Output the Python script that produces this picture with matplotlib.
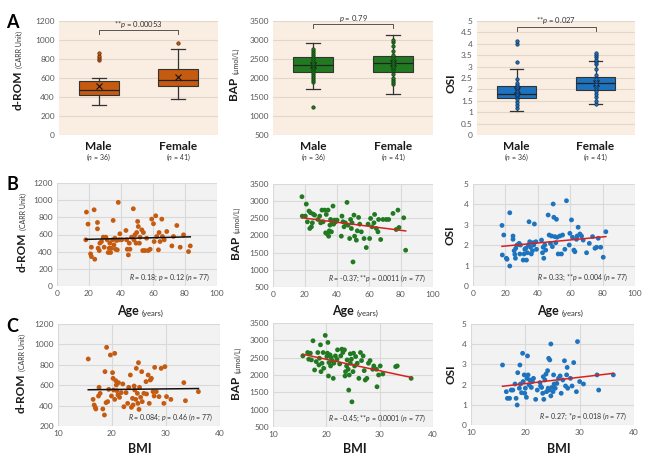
import numpy as np
import matplotlib
matplotlib.use('Agg')
import matplotlib.pyplot as plt
from matplotlib import transforms

plt.rcParams['font.family'] = ['Lato', 'DejaVu Sans']
plt.rcParams['mathtext.fontset'] = 'custom'
plt.rcParams['mathtext.rm'] = 'Lato'
plt.rcParams['mathtext.it'] = 'Lato:italic'
plt.rcParams['mathtext.bf'] = 'Lato:bold'

# ---- panel A: sex comparison (box statistics) ----
groups = ['Male', 'Female']
group_n = [36, 41]

drom_whislo = [315, 374]
drom_q1 = [423, 514]
drom_med = [472, 584]
drom_q3 = [570, 693]
drom_whishi = [602, 903]
drom_mean = [514, 609]
drom_points = [[785, 808, 830, 862], [973]]

bap_whislo = [1699, 1576]
bap_q1 = [2154, 2171]
bap_med = [2355, 2407]
bap_q3 = [2547, 2573]
bap_whishi = [2923, 3142]
bap_mean = [2340, 2395]
bap_points = [[1244, 1900, 1950, 2000, 2050, 2100, 2150, 2200, 2250, 2300, 2330, 2350,
               2380, 2400, 2450, 2500, 2550, 2600, 2650, 2700, 2750],
              [1850, 1900, 1950, 2000, 2100, 2200, 2250, 2300, 2350, 2400, 2450, 2500,
               2550, 2600, 2700, 2850, 2950, 3000]]

osi_whislo = [1.05, 1.38]
osi_q1 = [1.63, 1.97]
osi_med = [1.82, 2.30]
osi_q3 = [2.14, 2.55]
osi_whishi = [2.89, 3.24]
osi_mean = [1.98, 2.30]
osi_points = [[1.2, 1.3, 1.45, 1.6, 1.7, 1.75, 1.8, 1.9, 1.95, 2.0, 2.05, 2.1, 2.2, 2.3,
               2.45, 3.2, 4.0, 4.12],
              [1.35, 1.5, 1.65, 1.8, 1.95, 2.05, 2.15, 2.25, 2.35, 2.45, 2.65, 2.9, 3.1,
               3.2, 3.3, 3.4, 3.5, 3.6]]

# ---- panel B: versus age ----
age_drom = [18.4, 19.4, 18, 21.5, 21, 21.5, 23.2, 23.6, 25.3, 25.3, 25.7, 26.4, 26.8, 27.8,
            28.9, 29.5, 30.5, 31.4, 32, 32.6, 33, 33.5, 34, 34.7, 35.1, 35.6, 36.2, 36.6,
            37.2, 37.7, 38.3, 38.7, 39.3, 40.4, 43.1, 43.5, 43.9, 44.6, 45.2, 45.6, 46.6,
            47.7, 48.1, 48.7, 49.4, 49.8, 50.4, 50.8, 51.5, 51.9, 53, 53.6, 54, 55, 56, 57,
            58.2, 59.2, 60.3, 60.7, 61.7, 62.3, 63.4, 63.8, 64.4, 65.5, 65.9, 67, 68.6, 71.8,
            72.8, 74.9, 77, 79.1, 82.2, 83.3]
drom_age = [861, 721, 538, 452, 374, 343, 888, 312, 740, 666, 440, 413, 499, 518, 569, 452,
            569, 538, 390, 440, 499, 390, 440, 538, 764, 479, 557, 428, 530, 421, 974, 538,
            608, 538, 647, 538, 428, 362, 499, 428, 569, 900, 538, 596, 499, 623, 752, 693,
            499, 569, 654, 413, 623, 413, 557, 413, 428, 779, 725, 518, 818, 577, 421, 623,
            518, 779, 577, 538, 635, 467, 577, 705, 452, 596, 401, 467]

age_bap = [18.1, 18.3, 20.2, 20.8, 21.5, 22.5, 23, 23.5, 24, 24.6, 25.2, 26, 28.1, 29.2,
           29.8, 30.6, 31.3, 32.3, 32.9, 33.3, 34, 34.4, 34.8, 35.2, 35.6, 36, 36.5, 36.9,
           37.5, 37.9, 38.5, 39.2, 40, 42.7, 43.1, 43.75, 44.4, 45.2, 46.25, 46.9, 47.9,
           48.5, 49, 49.4, 50, 50.6, 51, 52.1, 52.7, 53.5, 54.2, 55.2, 56.9, 58.3, 59.4,
           60.4, 61, 61.9, 63.1, 63.5, 64.6, 65.6, 66, 67.3, 68.75, 70.8, 72.3, 75, 77, 78.1,
           78.75, 81.7, 82.9]
bap_age = [3130, 2565, 2565, 2915, 2399, 2711, 2204, 2662, 2253, 2370, 2623, 2594, 2467,
           2565, 2370, 2740, 2399, 2740, 2078, 2613, 2039, 2740, 1980, 2136, 2302, 2467,
           2107, 2399, 2857, 2331, 2448, 2399, 2448, 1980, 2565, 2399, 2253, 2370, 2964,
           2302, 1912, 2467, 2204, 2370, 1230, 2594, 1980, 1864, 2136, 2526, 2331, 2107,
           1912, 1649, 2331, 1912, 2497, 2253, 2370, 2613, 2204, 2107, 2467, 1883, 2467,
           2467, 2467, 2643, 2175, 2740, 2234, 2516, 1571]

age_osi = [17.9, 18.1, 19, 20.6, 21, 22.7, 22.7, 24.7, 24.7, 25.4, 25.8, 26.2, 26.4, 27.2,
           28.5, 28.9, 29.3, 31, 31.5, 32, 32.6, 33, 33.6, 34.2, 34.6, 35, 35.5, 36, 36.7,
           37.1, 37.5, 37.9, 38.8, 39.2, 42.3, 42.9, 43.3, 43.7, 44.3, 44.9, 46.4, 47, 47.8,
           48.5, 49, 49.5, 49.9, 50.5, 51.1, 51.5, 51.9, 52.6, 53.6, 54.6, 55.3, 56.7, 57.7,
           59.4, 59.8, 60.8, 61.4, 62.3, 62.9, 63.9, 64.3, 64.9, 66, 67, 68, 70.1, 71.8,
           73.8, 75.3, 76.3, 77.3, 78.8, 80.4, 82]
osi_age = [2.97, 1.52, 2.5, 1.36, 1.31, 3.59, 0.98, 2.45, 2.29, 1.73, 1.55, 1.36, 1.85,
           2.01, 2.09, 1.57, 2.01, 1.27, 1.57, 1.8, 1.85, 1.27, 1.63, 2.01, 3.15, 2.17, 1.9,
           1.57, 1.73, 2.12, 2.01, 3.04, 2.17, 1.8, 2.25, 1.63, 1.9, 1.36, 2.01, 1.76, 3.48,
           2.5, 2.09, 2.45, 1.93, 4.02, 3.37, 2.42, 2.12, 3.27, 2.39, 1.57, 2.45, 1.57, 2.5,
           1.8, 4.18, 2.01, 2.58, 3.24, 2.39, 1.76, 1.68, 2.29, 2.45, 2.88, 2.55, 2.45, 2.25,
           1.63, 2.09, 2.42, 1.85, 1.9, 2.34, 1.9, 1.41, 2.66]

# ---- panel C: versus BMI ----
bmi_drom = [15.6, 16.5, 16.7, 16.9, 17, 17.5, 17.6, 17.8, 18.3, 18.6, 18.7, 18.9, 19.0,
            19.2, 19.4, 19.7, 19.9, 20.1, 20.2, 20.3, 20.5, 20.5, 20.7, 20.8, 20.9, 21.1,
            21.2, 21.4, 21.7, 22, 22.2, 22.6, 22.9, 23.1, 23.4, 23.6, 23.8, 23.9, 24.1, 24.2,
            24.4, 24.5, 24.7, 24.8, 24.9, 25, 25.1, 25.3, 25.5, 25.6, 25.9, 26.3, 26.4, 26.7,
            26.9, 27.1, 27.3, 27.6, 27.8, 27.9, 28.2, 28.7, 29.1, 29.6, 29.8, 30.1, 30.9,
            33.3, 33.6, 36]
drom_bmi = [857, 461, 406, 383, 367, 494, 579, 520, 367, 308, 733, 429, 971, 439, 559, 896,
            494, 723, 667, 553, 461, 912, 644, 602, 546, 504, 625, 481, 527, 612, 389, 527,
            422, 579, 700, 383, 471, 406, 592, 553, 461, 765, 520, 422, 821, 363, 579, 481,
            733, 439, 520, 635, 514, 700, 422, 651, 667, 537, 494, 775, 537, 488, 765, 422,
            782, 488, 461, 625, 448, 537]

bmi_bap = [15.6, 16.5, 16.7, 17, 17.2, 17.5, 17.8, 18.1, 18.4, 18.6, 18.7, 18.9, 19, 19.2,
           19.4, 19.5, 19.8, 20.1, 20.2, 20.3, 20.4, 20.5, 20.7, 20.8, 20.9, 21.1, 21.3,
           21.4, 21.7, 22, 22.1, 22.5, 22.7, 22.9, 23.1, 23.4, 23.5, 23.6, 23.8, 23.9, 24.1,
           24.2, 24.3, 24.5, 24.5, 24.7, 24.8, 25, 25.1, 25.3, 25.5, 25.8, 26.1, 26.4, 26.6,
           26.9, 27.1, 27.3, 27.6, 27.9, 28.2, 28.7, 28.9, 29.4, 29.5, 29.8, 30.1, 30.6, 33,
           33.3, 35.9]
bap_bmi = [2552, 2648, 2455, 2629, 2436, 2987, 2145, 2387, 2648, 2290, 2484, 2871, 2097,
           2339, 2648, 2194, 3142, 2532, 2629, 2939, 1971, 2358, 2581, 2261, 2503, 2416,
           1903, 2339, 2552, 2455, 2726, 2319, 2552, 2745, 2648, 2726, 1971, 2097, 2261,
           2436, 2165, 1565, 2000, 2610, 2339, 2455, 1226, 2097, 2629, 2261, 2532, 2339,
           1903, 2648, 2416, 2552, 2126, 1855, 1903, 2339, 2416, 2165, 2261, 2165, 1661,
           2000, 2261, 2029, 2242, 2261, 1903]

bmi_osi = [15.8, 16.5, 16.7, 17.1, 17.4, 17.7, 18.1, 18.3, 18.5, 18.6, 18.9, 19, 19.1, 19.3,
           19.5, 19.6, 19.8, 19.9, 20, 20.2, 20.3, 20.4, 20.5, 20.7, 20.8, 21.1, 21.3, 21.5,
           21.9, 22.2, 22.7, 22.8, 23, 23.2, 23.3, 23.4, 23.6, 23.8, 23.9, 24.1, 24.2, 24.3,
           24.4, 24.5, 24.7, 24.7, 24.9, 25.1, 25.2, 25.3, 25.5, 25.8, 26.1, 26.4, 26.6,
           26.9, 27.2, 27.4, 27.6, 27.7, 27.8, 28.3, 28.6, 28.9, 29.4, 29.6, 30, 30.7, 33.2,
           33.5, 36.2]
osi_bmi = [2.97, 1.65, 1.32, 1.32, 1.73, 1.73, 2.03, 1.32, 0.99, 2.59, 1.82, 2.97, 2.03,
           1.6, 3.55, 2.15, 2.48, 1.57, 1.82, 1.37, 2.31, 3.42, 2.48, 1.98, 2.23, 1.86, 2.15,
           2.31, 1.27, 1.73, 2.1, 1.93, 1.86, 1.57, 2.39, 1.27, 2.23, 2.52, 1.65, 2.69, 1.82,
           3.3, 1.73, 3.22, 4.01, 1.44, 1.86, 1.65, 2.48, 2.03, 1.82, 2.06, 2.31, 2.43, 1.57,
           2.23, 3.18, 1.93, 2.48, 2.85, 1.82, 2.31, 1.93, 3.09, 1.65, 4.13, 2.15, 2.03,
           2.48, 1.73, 2.48]

stats_text = {
    ('B', 'drom'): r"$\it{R}$ = 0.18; $\it{p}$ = 0.12 ($\it{n}$ = 77)",
    ('B', 'bap'): r"$\it{R}$ = -0.37; **$\it{p}$ = 0.0011 ($\it{n}$ = 77)",
    ('B', 'osi'): r"$\it{R}$ = 0.33; **$\it{p}$ = 0.004 ($\it{n}$ = 77)",
    ('C', 'drom'): r"$\it{R}$ = 0.084; $\it{p}$ = 0.46 ($\it{n}$ = 77)",
    ('C', 'bap'): r"$\it{R}$ = -0.45; **$\it{p}$ = 0.0001 ($\it{n}$ = 77)",
    ('C', 'osi'): r"$\it{R}$ = 0.27; *$\it{p}$ = 0.018 ($\it{n}$ = 77)",
}
sex_p_text = [r"**$\it{p}$ = 0.00053", r"$\it{p}$ = 0.79", r"**$\it{p}$ = 0.027"]

ORANGE = '#C55A11'
GREEN = '#217A22'
BLUE = '#1E73BE'
TICK_C = '#595959'

W, H = 650, 467
fig = plt.figure(figsize=(6.5, 4.67), dpi=100)


def px_axes(x0, y0, x1, y1):
    return fig.add_axes([x0 / W, 1 - y1 / H, (x1 - x0) / W, (y1 - y0) / H])


def style(ax, bg, grid_c, both):
    ax.set_facecolor(bg)
    for s in ax.spines.values():
        s.set_visible(False)
    ax.tick_params(length=0, labelsize=6, colors=TICK_C, pad=3)
    ax.grid(axis='both' if both else 'y', color=grid_c, lw=0.8)
    ax.set_axisbelow(True)


def ylabel2(x_px, ybot_px, big, small):
    t = fig.text(x_px / W, 1 - ybot_px / H, big, rotation=90, ha='center', va='bottom',
                 fontsize=8.5, fontweight='bold', color='#1a1a1a')
    if small:
        fig.axes[0].annotate(small, xy=(1, 1), xycoords=t, xytext=(0, 2),
                             textcoords='offset points', rotation=90, ha='right',
                             va='bottom', fontsize=5, color='#333333',
                             annotation_clip=False)


def xlabel2(x_px, ybase_px, big, small):
    t = fig.text(x_px / W, 1 - ybase_px / H, big, ha='left', va='baseline',
                 fontsize=9, fontweight='bold', color='#1a1a1a')
    if small:
        fig.axes[0].annotate(small, xy=(1, 0), xycoords=t, xytext=(2, 0),
                             textcoords='offset points', ha='left', va='bottom',
                             fontsize=5.5, color='#333333', annotation_clip=False)


# ---------------- row A ----------------
box_sets = [
    (drom_whislo, drom_q1, drom_med, drom_q3, drom_whishi, drom_mean, drom_points, ORANGE,
     '#5a2508', (0, 1200), np.arange(0, 1201, 200), (1102, 1067, 1165)),
    (bap_whislo, bap_q1, bap_med, bap_q3, bap_whishi, bap_mean, bap_points, GREEN,
     '#0d3a0e', (500, 3500), np.arange(500, 3501, 500), (3413, 3326, 3560)),
    (osi_whislo, osi_q1, osi_med, osi_q3, osi_whishi, osi_mean, osi_points, BLUE,
     '#0b2f55', (0, 5), np.arange(0, 5.01, 0.5), (4.74, 4.56, 5.0)),
]
a_boxes = [(59, 21, 218, 135), (273, 21, 433, 135), (477, 21, 635, 135)]
for i, (lo, q1, med, q3, hi, mn, pts, col, edge, ylim, yt, br) in enumerate(box_sets):
    ax = px_axes(*a_boxes[i])
    style(ax, '#FAEDE1', '#E3D7CC', False)
    stats = []
    for k in range(2):
        stats.append(dict(whislo=lo[k], q1=q1[k], med=med[k], q3=q3[k], whishi=hi[k],
                          mean=mn[k], fliers=[]))
    ax.bxp(stats, positions=[1, 2], widths=0.5, patch_artist=True, showmeans=True,
           showfliers=False,
           boxprops=dict(facecolor=col, edgecolor='#333333', lw=0.8),
           medianprops=dict(color='#222222', lw=0.9),
           whiskerprops=dict(color='#333333', lw=0.9),
           capprops=dict(color='#333333', lw=0.9),
           capwidths=0.17,
           meanprops=dict(marker='x', markeredgecolor='#111111', markersize=4,
                          markeredgewidth=0.8))
    for k in range(2):
        ax.scatter(np.full(len(pts[k]), k + 1.0), pts[k], s=6, color=col,
                   edgecolors=edge, linewidths=0.5, zorder=4)
    ax.set_xlim(0.5, 2.5)
    ax.set_ylim(*ylim)
    ax.set_yticks(yt)
    if i == 2:
        ax.set_yticklabels([f'{v:g}' for v in yt])
    ax.set_xticks([1, 2])
    ax.set_xticklabels(groups, fontsize=8.5, fontweight='bold', color='#1a1a1a')
    ax.tick_params(axis='x', pad=4)
    trans = transforms.blended_transform_factory(ax.transData, ax.transAxes)
    for k in range(2):
        ax.text(k + 1, -0.2, rf"($\it{{n}}$ = {group_n[k]})", transform=trans, ha='center',
                va='center', fontsize=5, color='#333333')
    ytop, ytick_end, ytext = br
    ax.plot([1, 1, 2, 2], [ytick_end, ytop, ytop, ytick_end], color='#555555', lw=0.7,
            clip_on=False)
    ax.text(1.5, ytext, sex_p_text[i], ha='center', va='center', fontsize=5.5,
            color='#333333', clip_on=False)

ylabel2(18, 110, 'd-ROM', '(CARR Unit)')
ylabel2(234, 100, 'BAP', '(µmol/L)')
ylabel2(451, 93, 'OSI', '')

# ---------------- rows B and C ----------------
rows = [
    ('B', [(age_drom, drom_age), (age_bap, bap_age), (age_osi, osi_age)],
     [(57, 183, 217, 286), (273, 184, 433, 287), (473, 184, 635, 286)],
     (0, 100), np.arange(0, 101, 20)),
    ('C', [(bmi_drom, drom_bmi), (bmi_bap, bap_bmi), (bmi_osi, osi_bmi)],
     [(58, 324, 220, 426), (273, 323, 433, 427), (471, 324, 634, 425)],
     (10, 40), np.arange(10, 41, 10)),
]
names = ['drom', 'bap', 'osi']
colors = [ORANGE, GREEN, BLUE]
line_colors = ['#111111', '#D92020', '#D92020']
ylims = {'B': [(0, 1200), (500, 3500), (0, 5)], 'C': [(200, 1200), (500, 3500), (0, 5)]}
yticks = {'B': [np.arange(0, 1201, 200), np.arange(500, 3501, 500), np.arange(0, 6, 1)],
          'C': [np.arange(200, 1201, 200), np.arange(500, 3501, 500), np.arange(0, 6, 1)]}

for row, series, boxes, xlim, xt in rows:
    for j in range(3):
        ax = px_axes(*boxes[j])
        style(ax, '#F2F2F2', '#D9D9D9', True)
        x = np.array(series[j][0], dtype=float)
        y = np.array(series[j][1], dtype=float)
        ax.scatter(x, y, s=12, color=colors[j], edgecolors='none', zorder=3)
        slope, icpt = np.polyfit(x, y, 1)
        xs = np.array([x.min(), x.max()])
        ax.plot(xs, slope * xs + icpt, color=line_colors[j], lw=1.1, zorder=4)
        ax.set_xlim(*xlim)
        ax.set_xticks(xt)
        ax.set_ylim(*ylims[row][j])
        ax.set_yticks(yticks[row][j])
        ax.text(0.955, 0.085, stats_text[(row, names[j])], transform=ax.transAxes,
                ha='right', va='center', fontsize=5, color='#333333', zorder=5)

ylabel2(22, 272, 'd-ROM', '(CARR Unit)')
ylabel2(235, 259, 'BAP', '(µmol/L)')
ylabel2(450, 245, 'OSI', '')
ylabel2(21, 413, 'd-ROM', '(CARR Unit)')
ylabel2(236, 399, 'BAP', '(µmol/L)')
ylabel2(451, 384, 'OSI', '')

for xpx in (117, 332, 537):
    xlabel2(xpx, 315, 'Age', '(years)')
for xpx in (128, 343, 547):
    xlabel2(xpx, 453, 'BMI', '')

for letter, ypx in (('A', 23), ('B', 184), ('C', 326)):
    fig.text(6 / W, 1 - ypx / H, letter, fontsize=13, fontweight='bold', ha='left',
             va='center')

fig.savefig('out.png', dpi=100)
